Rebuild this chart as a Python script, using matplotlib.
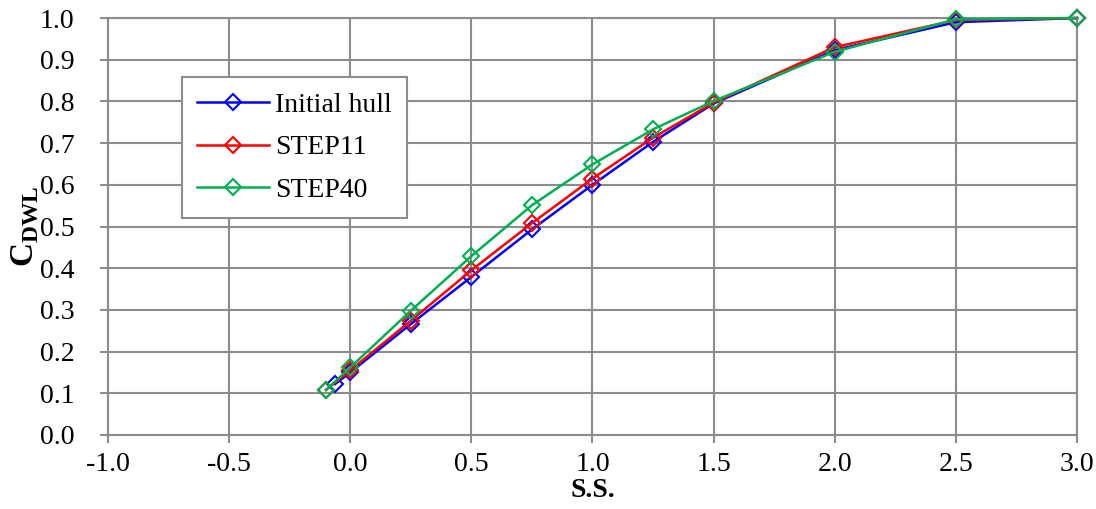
import numpy as np
import matplotlib
matplotlib.use('Agg')
import matplotlib.pyplot as plt

# station positions (S.S.)
x_initial = [-0.063, 0.0, 0.25, 0.5, 0.75, 1.0, 1.25, 1.5, 2.0, 2.5, 3.0]
x_step = [-0.1, 0.0, 0.25, 0.5, 0.75, 1.0, 1.25, 1.5, 2.0, 2.5, 3.0]

# C_DWL values
cdwl_initial = [0.122, 0.150, 0.266, 0.379, 0.493, 0.600, 0.703, 0.795, 0.923, 0.990, 1.0]
cdwl_step11 = [0.108, 0.155, 0.274, 0.395, 0.508, 0.615, 0.713, 0.797, 0.930, 0.995, 1.0]
cdwl_step40 = [0.108, 0.162, 0.298, 0.429, 0.551, 0.649, 0.733, 0.801, 0.919, 0.997, 1.0]

labels = ['Initial hull', 'STEP11', 'STEP40']
colors = ['#0000FF', '#FF0000', '#00B050']

plt.rcParams['font.family'] = ['Liberation Serif', 'DejaVu Serif']
plt.rcParams['mathtext.fontset'] = 'custom'
plt.rcParams['mathtext.rm'] = 'Liberation Serif'
plt.rcParams['mathtext.bf'] = 'Liberation Serif:bold'

fig = plt.figure(figsize=(10.96, 5.09), dpi=100)
ax = fig.add_axes([0.0985, 0.1454, 0.8842, 0.8192])

series = [(x_initial, cdwl_initial), (x_step, cdwl_step11), (x_step, cdwl_step40)]
for (xs, ys), lab, c in zip(series, labels, colors):
    ax.plot(xs, ys, color=c, lw=1.8, marker='D', markersize=8,
            markerfacecolor='none', markeredgecolor=c, markeredgewidth=1.5,
            label=lab, zorder=3, clip_on=False)

ax.set_xlim(-1.0, 3.0)
ax.set_ylim(0.0, 1.0)
ax.set_xticks(np.arange(-1.0, 3.01, 0.5))
ax.set_yticks(np.arange(0.0, 1.01, 0.1))
ax.set_xticklabels(['%.1f' % v for v in np.arange(-1.0, 3.01, 0.5)])
ax.set_yticklabels(['%.1f' % v for v in np.arange(0.0, 1.01, 0.1)])
ax.grid(True, color='#8c8c8c', lw=1.5, zorder=0)
for s in ax.spines.values():
    s.set_color('#8c8c8c')
    s.set_linewidth(1.5)
ax.tick_params(axis='both', colors='#8c8c8c', length=6, width=1.5,
               labelcolor='black', labelsize=20)
ax.tick_params(axis='y', pad=18)
ax.tick_params(axis='x', pad=6)

ax.set_xlabel('S.S.', fontsize=20, fontweight='bold', labelpad=1)
ax.set_ylabel(r'$\mathbf{C}_{\mathbf{DWL}}$', fontsize=24, labelpad=0)

leg = ax.legend(loc='upper left', bbox_to_anchor=(0.0764, 0.8585), borderaxespad=0,
                fontsize=20, frameon=True, fancybox=False, handlelength=2.6,
                labelspacing=0.62, borderpad=0.55, handletextpad=0.2)
leg.get_frame().set_edgecolor('#8c8c8c')
leg.get_frame().set_linewidth(1.5)
leg.get_frame().set_alpha(1)

fig.savefig('out.png', dpi=100)
